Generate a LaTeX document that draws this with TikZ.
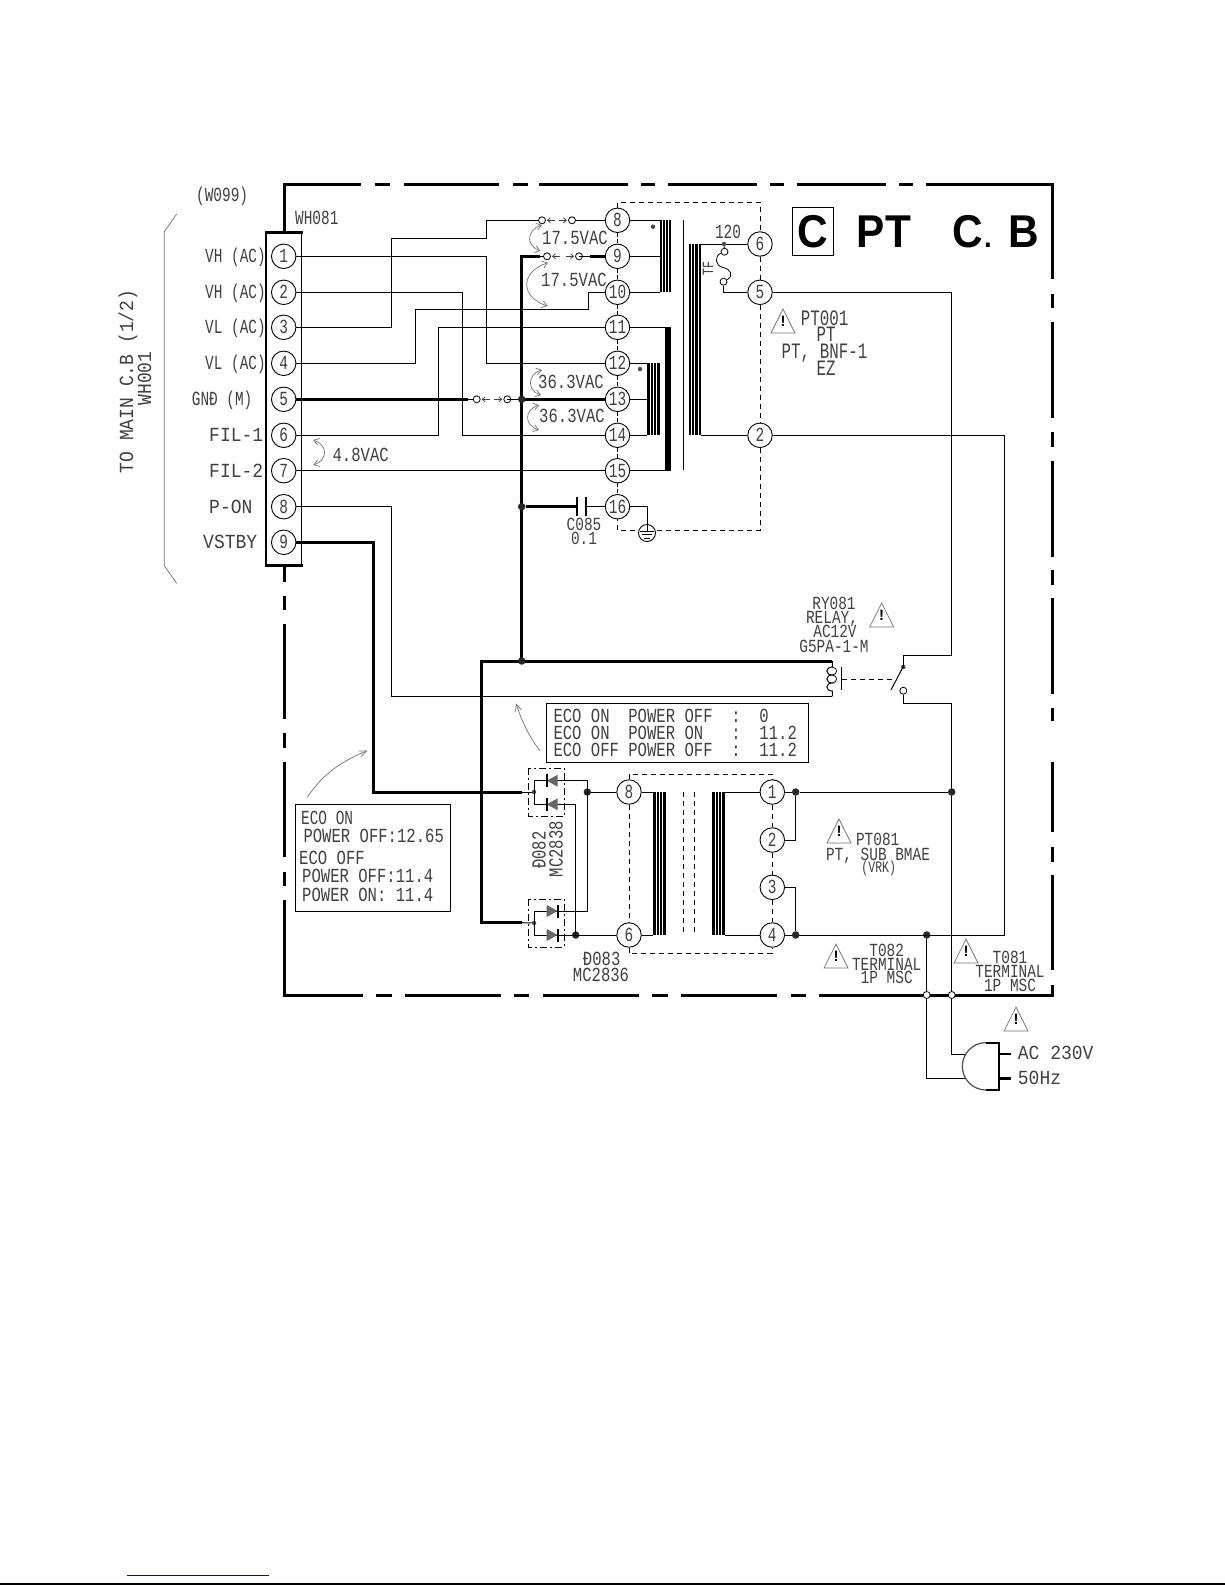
\documentclass[tikz,border=0pt]{standalone}
\usepackage{fontspec}
\setmainfont{Liberation Sans}
\newfontfamily\cadn[FakeStretch=0.72]{Liberation Mono}
\newfontfamily\cadv[FakeStretch=0.78]{Liberation Mono}
\newfontfamily\cadw[FakeStretch=0.90]{Liberation Mono}
\newfontfamily\cadb[FakeStretch=0.92]{Liberation Sans}
\usetikzlibrary{arrows.meta}
\definecolor{inktext}{gray}{0.25}
\definecolor{inkgray}{gray}{0.45}
\tikzset{
 lab/.style={font=\cadn\fontsize{20}{24}\selectfont,text=inktext,inner sep=0,text height=13.2pt,text depth=0pt},
 labt/.style={font=\cadv\fontsize{18.5}{22}\selectfont,text=inktext,inner sep=0,text height=12.2pt,text depth=0pt},
 labv/.style={font=\cadv\fontsize{20}{24}\selectfont,text=inktext,inner sep=0,text height=13.2pt,text depth=0pt},
 labw/.style={font=\cadw\fontsize{20}{24}\selectfont,text=inktext,inner sep=0,text height=13.2pt,text depth=0pt},
 labm/.style={font=\cadn\fontsize{22}{26}\selectfont,text=inktext,inner sep=0,text height=14.5pt,text depth=0pt},
 labs/.style={font=\cadn\fontsize{16}{20}\selectfont,text=inktext,inner sep=0,text height=10.5pt,text depth=0pt},
 big/.style={font=\cadb\bfseries\fontsize{46}{50}\selectfont,inner sep=0,anchor=base},
 pinc/.style={lab,circle,draw=black,line width=0.9pt,fill=white,minimum size=24.5pt,inner sep=0},
 wire/.style={line width=1pt,line join=miter},
 thick wire/.style={line width=3pt,line join=miter},
 framel/.style={line width=3pt},
 dashl/.style={line width=0.9pt,dash pattern=on 5pt off 4pt},
 dashd/.style={line width=0.9pt,dash pattern=on 7pt off 3pt on 2pt off 3pt},
 dot/.style={circle,fill=black!85,inner sep=0,minimum size=7.5pt},
 mini/.style={circle,fill=black!70,inner sep=0,minimum size=4.5pt},
 open/.style={circle,draw=black,line width=0.8pt,fill=white,inner sep=0,minimum size=7pt},
 tbox/.style={line width=1pt},
 curvearr/.style={line width=0.7pt,draw=inkgray,{Straight Barb[length=5pt,width=7pt]}-{Straight Barb[length=5pt,width=7pt]}},
 leader/.style={line width=0.7pt,draw=inkgray,-{Straight Barb[length=7pt,width=6pt]}},
 warnl/.style={line width=0.7pt,draw=inkgray},
 warnm/.style={font=\bfseries\fontsize{15}{16}\selectfont,inner sep=0},
 gaptail/.style={line width=0.7pt,draw=black!75,-{Straight Barb[length=3pt,width=5pt]}},
}
\newcommand\warn[3]{\node[warnm] (#1) at (#2,#3) {!};
 \draw[warnl] ({#2-12},{#3+12}) -- ({#2+12},{#3+12}) -- (#2,{#3-12}) -- cycle;}
\newcommand\coilbar[4]{\fill[black] (#1,#3) rectangle (#2,#4);
 \foreach \q in {0.25,0.5,0.75}{\draw[white,line width=0.7pt] ({#1+(#2-#1)*\q},#3) -- ({#1+(#2-#1)*\q},#4);}}
\newcommand\gapsym[3]{% open contacts on a horizontal wire, at x=#1 and x=#2, y=#3
 \draw[gaptail] ({#1+13},#3) -- ({#1+5},#3);
 \draw[gaptail] ({#2-13},#3) -- ({#2-5},#3);
 \node[open] at (#1,#3) {}; \node[open] at (#2,#3) {};}
\begin{document}
\begin{tikzpicture}[x=1pt,y=-1pt]
\useasboundingbox (0,0) rectangle (1225,1585);
\fill[white] (0,0) rectangle (1225,1585);
% page rules
\draw[line width=1.5pt,color={rgb,255:red,0;green,0;blue,205}] (127,1575.5) -- (269,1575.5);
\draw[line width=2pt] (0,1584) -- (1225,1584);
% frame
\foreach \a/\b in {282.5/361,375/390,404/499,513/528,539/628,641/655,668/757,770/784,797/886,899/913,926/1054.2}{\draw[framel] (\a,184.3) -- (\b,184.3);}
\foreach \a/\b in {282.5/362.7,376/391.7,405/500.7,514/529,543.3/638.7,652/667.7,681/776.7,790.7/805.7,819.3/923,930/948,955/1054.2}{\draw[framel] (\a,995) -- (\b,995);}
\foreach \a/\b in {184.3/279.3,294/308.3,322.3/418.3,432.3/446.7,461/556.7,570/585,598/694,708/720.7,761.7/832,846.7/861.7,875/970,985/996.5}{\draw[framel] (1052.7,\a) -- (1052.7,\b);}
\foreach \a/\b in {184.3/232,565.7/581.7,595.5/610,624.3/719.3,733.3/748.3,762.3/857.3,871.7/886,900/995}{\draw[framel] (284,\a) -- (284,\b);}
% connector strip
\draw[line width=1.5pt] (266,232.3) rectangle (301.7,565.7);
\draw[line width=2.5pt] (265,232.3) -- (302.7,232.3);
\draw[line width=2.5pt] (265,565.7) -- (302.7,565.7);
\foreach \n/\y in {1/256.3,2/292.3,3/327.3,4/363.3,5/399.3,6/435.3,7/470.7,8/506.7,9/542.3}{\node[pinc] (p\n) at (283.7,\y) {\n};}
% PT001 terminals
\foreach \n/\y in {8/220.3,9/256.3,10/292.3,11/327.3,12/363.3,13/399.3,14/435.3,15/470.7,16/506.7}{\node[pinc] (c\n) at (617.5,\y) {\n};}
\foreach \n/\y in {6/244,5/292.3,2/435.3}{\node[pinc] (r\n) at (760,\y) {\n};}
% PT081 terminals
\node[pinc] (s8) at (629,792) {8};
\node[pinc] (s6) at (629,935) {6};
\foreach \n/\y in {1/792,2/840,3/887.3,4/935}{\node[pinc] (t\n) at (772.3,\y) {\n};}
% dashed enclosures
\draw[dashl] (c8.north) -- (617.5,202) -- (760,202) -- (r6.north);
\draw[dashl] (r6.south) -- (r5.north);
\draw[dashl] (r5.south) -- (r2.north);
\draw[dashl] (r2.south) -- (760,530) -- (617.5,530) -- (c16.south);
\foreach \a/\b in {8/9,9/10,10/11,11/12,12/13,13/14,14/15,15/16}{\draw[dashl,dash pattern=on 4pt off 2pt] (c\a.south) -- (c\b.north);}
\draw[dashl] (s8.north) -- (629,774.3) -- (772.3,774.3) -- (t1.north);
\draw[dashl] (s6.south) -- (629,953.3) -- (772.3,953.3) -- (t4.south);
\draw[dashl] (s8.south) -- (s6.north);
\draw[dashl] (t1.south) -- (t2.north);
\draw[dashl] (t2.south) -- (t3.north);
\draw[dashl] (t3.south) -- (t4.north);
% windings
\coilbar{660}{671}{220.3}{292.3}
\fill[black] (665,327.3) rectangle (671,470.7);
\coilbar{647}{660}{363.3}{435.3}
\coilbar{688.6}{701}{244}{435.3}
\draw[line width=1pt] (683.6,220.3) -- (683.6,470);
\node[mini] (wd1) at (653,226.7) {};
\node[mini] (wd2) at (640,369) {};
\coilbar{653.3}{665.7}{792}{935}
\coilbar{712.3}{725}{792}{935}
\draw[dashl] (683.3,792) -- (683.3,935);
\draw[dashl] (694.3,792) -- (694.3,935);
% winding leads
\draw[wire] (c8) -- (660,220.3);
\draw[wire] (c9) -- (660,256.3);
\draw[wire] (c10) -- (660,292.3);
\draw[wire] (c11) -- (665,327.3);
\draw[wire] (c12) -- (647,363.3);
\draw[wire] (c13) -- (647,399.3);
\draw[wire] (c14) -- (647,435.3);
\draw[wire] (c15) -- (665,470.7);
\draw[wire] (r6) -- (701,244);
\draw[wire] (r2) -- (701,435.3);
\draw[wire] (s8) -- (653.3,792);
\draw[wire] (s6) -- (653.3,935);
\draw[wire] (t1) -- (725,792);
\draw[wire] (t4) -- (725,935);
% wires from the strip
\draw[wire] (p1) -- (486.7,256.3) -- (486.7,363.3) -- (c12);
\draw[wire] (p2) -- (462.7,292.3) -- (462.7,435.3) -- (c14);
\draw[wire] (p3) -- (391.3,327.3) -- (391.3,238.3) -- (486.7,238.3) -- (486.7,220.3) -- (542,220.3);
\draw[wire] (572,220.3) -- (c8);
\gapsym{542}{572}{220.3}
\draw[wire] (p4) -- (415.3,363.3) -- (415.3,309.3) -- (588,309.3) -- (588,292.3) -- (c10);
\draw[wire] (p6) -- (438.3,435.3) -- (438.3,327.3) -- (c11);
\draw[wire] (p7) -- (c15);
\draw[wire] (p8) -- (391.3,506.7) -- (391.3,696.3) -- (832.3,696.3);
\draw[thick wire] (p9) -- (373.3,542.3) -- (373.3,792) -- (521.7,792);
\draw[thick wire] (p5) -- (468,399.3);
\draw[wire] (468,399.3) -- (476.7,399.3);
\gapsym{476.7}{507.3}{399.3}
\draw[wire] (507.3,399.3) -- (521.7,399.3);
\draw[thick wire] (521.7,399.3) -- (c13);
\draw[thick wire] (540,256.3) -- (521.7,256.3) -- (521.7,661);
\draw[wire] (540,256.3) -- (547,256.3);
\gapsym{547}{579}{256.3}
\draw[wire] (579,256.3) -- (590,256.3);
\draw[thick wire] (590,256.3) -- (c9);
\draw[thick wire] (832.3,661) -- (481,661) -- (481,922.7) -- (521.7,922.7);
\node[dot] (j1) at (521.7,399.3) {};
\node[dot] (j2) at (521.7,506.7) {};
\node[dot] (j3) at (521.7,661) {};
% capacitor C085
\draw[thick wire] (j2) -- (577,506.7);
\draw[line width=2pt] (577,497) -- (577,516);
\draw[line width=2pt] (585.5,497) -- (585.5,516);
\draw[wire] (585.5,506.7) -- (c16);
% earth
\draw[wire] (c16) -- (647,506.7) -- (647,525);
\node[circle,draw=black,line width=0.9pt,fill=white,minimum size=17pt,inner sep=0] (gnd) at (647,533) {};
\draw[line width=0.9pt] (647,525) -- (647,531);
\draw[line width=0.9pt] (640,531) -- (654,531);
\draw[line width=0.9pt] (642,534.5) -- (652,534.5);
\draw[line width=0.9pt] (644,538) -- (650,538);
% fuse
\node[mini] (fd) at (724,244) {};
\node[open] (f1) at (724.5,251.7) {};
\node[open] (f2) at (723.5,281.7) {};
\draw[line width=1pt] (fd) -- (f1);
\draw[line width=0.8pt] (f1) .. controls (714,256) and (715,266) .. (723,267.5) .. controls (731,269) and (734,276) .. (f2);
\draw[wire] (f2) -- (723.5,292.3) -- (r5);
% wire to relay and terminals
\draw[wire] (r5) -- (951.7,292.3) -- (951.7,655) -- (903.3,655) -- (903.3,667);
\draw[wire] (r2) -- (1004.3,435.3) -- (1004.3,935) -- (t4);
% relay
\draw[line width=1pt] (832.3,661) -- (832.3,667) .. controls (825,667) and (825,675) .. (832.3,675) .. controls (825,675) and (825,683) .. (832.3,683) .. controls (825,683) and (825,691) .. (832.3,691) -- (832.3,696.3);
\draw[line width=0.7pt] (832.3,667) .. controls (838,668) and (838,674) .. (832.3,675) .. controls (838,676) and (838,682) .. (832.3,683);
\draw[line width=1.2pt] (841.7,666.7) -- (841.7,690);
\draw[dashl] (842,679) -- (895,679);
\node[mini] (sw1) at (903.3,667) {};
\node[open] (sw2) at (903.3,690.7) {};
\draw[line width=1pt] (904,665) -- (891,690);
\draw[wire] (sw2) -- (903.3,703.3) -- (951.7,703.3) -- (951.7,995);
% PT081 secondary links
\node[dot] (j4) at (795.7,792) {};
\node[dot] (j5) at (795.7,935) {};
\node[dot] (j6) at (951.7,792) {};
\node[dot] (j7) at (926.7,935) {};
\draw[wire] (t1) -- (j4);
\draw[wire] (j4) -- (j6);
\draw[wire] (j4) -- (795.7,840) -- (t2);
\draw[wire] (t3) -- (795.7,887.3) -- (j5);
\draw[wire] (t4) -- (j5);
\draw[wire] (j5) -- (1004.3,935);
% mains
\node[open] (m1) at (926.7,995) {};
\node[open] (m2) at (951.7,995) {};
\draw[wire] (j7) -- (m1);
\draw[wire] (m1) -- (926.7,1078.3) -- (965,1078.3);
\draw[wire] (m2) -- (951.7,1054) -- (965,1054);
% plug
\draw[line width=1.2pt,draw=black!70] (986,1090) arc[start angle=90,end angle=270,radius=23.7];
\draw[line width=2pt] (986,1042.7) -- (999.3,1042.7) -- (999.3,1090) -- (986,1090);
\draw[line width=2.5pt] (999.3,1054) -- (1010.5,1054);
\draw[line width=2.5pt] (999.3,1078.3) -- (1010.5,1078.3);
% diodes
\draw[dashd] (528.3,768.3) rectangle (564.3,816);
\draw[dashd] (528.3,899.3) rectangle (564.3,947.3);
\node[mini] (a1) at (534,792) {};
\node[mini] (a2) at (534,923) {};
\node[dot] (j8) at (587.3,792) {};
\node[dot] (j9) at (575.7,935) {};
\draw[wire] (521.7,792) -- (a1);
\draw[wire] (521.7,922.7) -- (a2);
\draw[wire] (534,804.3) -- (534,780.7) -- (587.3,780.7) -- (587.3,911) -- (534,911) -- (534,935) -- (s6);
\draw[wire] (534,804.3) -- (575.7,804.3) -- (575.7,935);
\draw[wire] (j8) -- (s8);
\foreach \y in {780.7,804.3}{\fill[black!60] (546.7,\y) -- (557.7,{\y-6}) -- (557.7,{\y+6}) -- cycle;
 \draw[line width=1.6pt] (546.7,{\y-6.5}) -- (546.7,{\y+6.5});}
\foreach \y in {911,935}{\fill[black!60] (557.7,\y) -- (546.7,{\y-6}) -- (546.7,{\y+6}) -- cycle;
 \draw[line width=1.6pt] (557.7,{\y-6.5}) -- (557.7,{\y+6.5});}
% bracket
\draw[line width=0.7pt,draw=inkgray] (176.7,214) -- (164.3,231.7) -- (164.3,565.7) -- (176.7,583.3);
% voltage arrows
\draw[curvearr] (542,225) .. controls (526,230) and (526,246) .. (540.4,251);
\draw[curvearr] (548,262.7) .. controls (520,272) and (520,297) .. (547.5,306);
\draw[curvearr] (542,370) .. controls (527,374) and (527,391) .. (541,395);
\draw[curvearr] (539,405) .. controls (524,410) and (524,425) .. (539,430);
\draw[curvearr] (313.3,440) .. controls (328,445) and (328,460) .. (313.3,465);
\draw[leader] (307.3,797.3) .. controls (322,775) and (340,762) .. (367.3,750.7);
\draw[leader] (540,750.7) .. controls (530,738) and (522,722) .. (516,703.3);
% text boxes
\draw[tbox] (295.7,804.3) rectangle (450.7,911.7);
\draw[tbox] (546.3,703.3) rectangle (808.3,762.3);
\node[lab,anchor=west] (e1) at (301,818) {ECO ON};
\node[labv,anchor=west] (e2) at (303.3,835.7) {POWER OFF:12.65};
\node[labv,anchor=west] (e3) at (299,858.3) {ECO OFF};
\node[labv,anchor=west] (e4) at (302,876) {POWER OFF:11.4};
\node[labv,anchor=west] (e5) at (302,895) {POWER ON: 11.4};
\node[labv,anchor=west] (f1t) at (553.3,716) {ECO~ON~~POWER~OFF~~:~~0};
\node[labv,anchor=west] (f2t) at (553.3,732.7) {ECO~ON~~POWER~ON~~~:~~11.2};
\node[labv,anchor=west] (f3t) at (553.3,750) {ECO~OFF~POWER~OFF~~:~~11.2};
% left labels
\node[lab,anchor=west] (l1) at (205,256.3) {VH (AC)};
\node[lab,anchor=west] (l2) at (205,292.3) {VH (AC)};
\node[lab,anchor=west] (l3) at (205,327.3) {VL (AC)};
\node[lab,anchor=west] (l4) at (205,363.3) {VL (AC)};
\node[lab,anchor=west] (l5) at (191.7,399.3) {GNĐ (M)};
\node[labw,anchor=west] (l6) at (209,435.3) {FIL-1};
\node[labw,anchor=west] (l7) at (209,470.7) {FIL-2};
\node[labw,anchor=west] (l8) at (209,506.7) {P-ON};
\node[labw,anchor=west] (l9) at (203,542.3) {VSTBY};
\node[lab,anchor=west] (w099) at (196,195) {(W099)};
\node[lab,anchor=west] (wh081) at (295,218) {WH081};
\node[labw,rotate=90] (tomain) at (126.5,381.5) {TO MAIN C.B (1/2)};
\node[labw,rotate=90] (wh001) at (144.5,378.5) {WH001};
\node[labv] (v48) at (360.7,455) {4.8VAC};
\node[labv] (v1) at (575,238) {17.5VAC};
\node[labv] (v2) at (574,280) {17.5VAC};
\node[labv] (v3) at (571,382.3) {36.3VAC};
\node[labv] (v4) at (572,415.7) {36.3VAC};
\node[labt] (c085) at (584,524) {C085};
\node[labt] (c01) at (584,538) {0.1};
\node[lab] (f120) at (728,232) {120};
\node[labs,rotate=90] (ftf) at (708,268.3) {TF};
% title
\draw[line width=1pt] (792.5,207) rectangle (833.5,255);
\node[big] (tc) at (813,247.3) {C};
\node[big] (tpt) at (884,247.3) {PT};
\node[big] (tc2) at (968,247.3) {C};
\node[big,font=\cadb\bfseries\fontsize{30}{32}\selectfont] (tdot) at (988,247.3) {.};
\node[big] (tb) at (1024,247.3) {B};
% parts
\warn{w1}{783}{321}
\node[labm] (a1t) at (824.6,318) {PT001};
\node[labm] (a2t) at (826,334) {PT};
\node[labm] (a3t) at (824.5,351.7) {PT, BNF-1};
\node[labm] (a4t) at (826,368) {EZ};
\warn{w2}{881.7}{615}
\node[labt] (b1t) at (834,603) {RY081};
\node[labt] (b2t) at (832,617) {RELAY,};
\node[labt] (b3t) at (835,631.7) {AC12V};
\node[labt] (b4t) at (834,646) {G5PA-1-M};
\warn{w3}{839}{831}
\node[labt] (c1t) at (877.7,839.3) {PT081};
\node[labt] (c2t) at (878,854) {PT, SUB BMAE};
\node[labs] (c3t) at (878.7,867.3) {(VRK)};
\warn{w4}{836}{956}
\node[labt] (d1t) at (886.7,950) {T082};
\node[labt] (d2t) at (886.7,964) {TERMINAL};
\node[labt] (d3t) at (886.7,977.7) {1P MSC};
\warn{w5}{966}{951}
\node[labt] (g1t) at (1010,957.3) {T081};
\node[labt] (g2t) at (1010,971) {TERMINAL};
\node[labt] (g3t) at (1010,985) {1P MSC};
\warn{w6}{1016}{1019}
\node[labw,anchor=west] (h1t) at (1017.7,1053.3) {AC 230V};
\node[labw,anchor=west] (h2t) at (1017.7,1077.7) {50Hz};
\node[labv,rotate=90] (k1t) at (539,850) {Đ082};
\node[labv,rotate=90] (k2t) at (556,849) {MC2838};
\node[labv] (k3t) at (601.7,959.3) {Đ083};
\node[labv] (k4t) at (601,975) {MC2836};
\end{tikzpicture}
\end{document}
